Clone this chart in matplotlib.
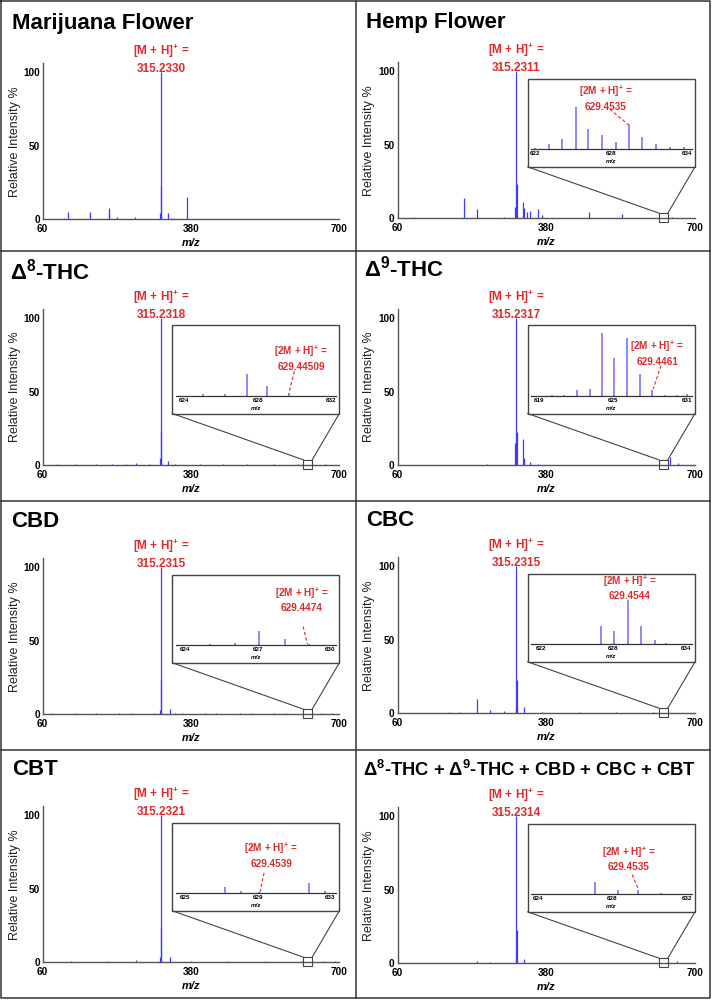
import matplotlib
matplotlib.use("Agg")
import matplotlib.pyplot as plt
from matplotlib.patches import Rectangle
from matplotlib.lines import Line2D

plt.rcParams['font.family'] = ['Liberation Sans', 'DejaVu Sans']
plt.rcParams['mathtext.fontset'] = 'custom'
plt.rcParams['mathtext.rm'] = 'Liberation Sans'
plt.rcParams['mathtext.bf'] = 'Liberation Sans:bold'
plt.rcParams['mathtext.it'] = 'Liberation Sans:italic'

# ---- data ----
titles = ['Marijuana Flower', 'Hemp Flower', r'$\mathbf{\Delta^{8}}$-THC', r'$\mathbf{\Delta^{9}}$-THC',
          'CBD', 'CBC', 'CBT',
          r'$\mathbf{\Delta^{8}}$-THC + $\mathbf{\Delta^{9}}$-THC + CBD + CBC + CBT']
mh_values = ['315.2330', '315.2311', '315.2318', '315.2317', '315.2315', '315.2315', '315.2321', '315.2314']
dimer_values = [None, '629.4535', '629.44509', '629.4461', '629.4474', '629.4544', '629.4539', '629.4535']

marijuana_mz = [72, 83, 105, 115, 130, 148, 162, 202, 204, 221, 259, 313, 315.23, 316.24, 331, 340, 371, 389]
marijuana_int = [0.5, 0.5, 1.2, 5.2, 0.5, 0.5, 5.2, 4, 8, 1.3, 1.3, 4.5, 100, 22.6, 4.5, 1, 15.2, 0.5]

hemp_mz = [95, 204, 231, 290, 313, 315.23, 316.24, 330, 333, 338, 344, 362, 370, 472, 542, 650]
hemp_int = [0.8, 13.5, 6, 0.8, 8, 100, 23.6, 10.8, 6.7, 4, 5, 6, 2, 4.3, 2.7, 1]

d8_mz = [90, 130, 175, 210, 240, 261, 290, 313, 315.23, 316.24, 331, 345, 400, 450, 500, 560, 610, 670]
d8_int = [0.4, 0.5, 0.4, 0.5, 0.4, 1.2, 0.5, 5, 100, 23, 3, 0.8, 0.4, 0.5, 0.4, 0.4, 0.5, 0.4]

d9_mz = [252, 313.5, 315.23, 316.24, 330, 332, 345, 362, 647, 663]
d9_int = [0.5, 14.8, 100, 22.7, 17.5, 4.5, 2.3, 0.6, 5.7, 1.4]

cbd_mz = [80, 105, 130, 150, 175, 200, 225, 250, 275, 300, 314, 315.23, 316.24, 335, 345,
          360, 385, 410, 435, 460, 485, 510, 535, 560, 585, 610, 660, 685]
cbd_int = [0.6, 0.5, 0.7, 0.5, 0.6, 0.5, 0.7, 0.6, 0.5, 0.7, 3, 100, 23.5, 3.4, 1,
           0.6, 0.5, 0.7, 0.6, 0.5, 0.7, 0.6, 0.5, 0.7, 0.6, 0.5, 0.7, 0.6]

cbc_mz = [90, 130, 170, 195, 231, 260, 289, 314, 315.23, 316.24, 332, 370, 410, 450, 490, 530, 570, 610, 665]
cbc_int = [0.5, 0.5, 0.6, 1, 9.8, 2.3, 1.8, 3.4, 100, 22.7, 4.5, 0.6, 0.5, 0.6, 0.5, 0.6, 0.5, 0.6, 0.5]

cbt_mz = [85, 120, 160, 200, 235, 261, 314, 315.23, 316.24, 335, 380, 420, 460, 500, 540, 580, 620, 665, 690]
cbt_int = [0.5, 0.6, 0.5, 0.6, 0.5, 1.6, 3.4, 100, 23, 3.4, 0.6, 0.5, 0.6, 0.5, 0.6, 0.5, 0.6, 0.6, 0.8]

mix_mz = [232, 260, 314, 315.23, 316.24, 332, 662]
mix_int = [1.6, 1.1, 3.9, 100, 22.9, 2.7, 1.8]

hemp_inset_mz = [622.0, 623.06, 624.1, 625.2, 626.2, 627.3, 628.4, 629.45, 630.5, 631.6, 632.7, 633.8]
hemp_inset_int = [2.3, 8, 14, 60, 29, 20, 11, 34, 17, 8, 4, 3]
d8_inset_mz = [625.0, 626.2, 627.4, 628.5, 629.7]
d8_inset_int = [2.4, 3.3, 31, 14, 3.8]
d9_inset_mz = [620.0, 621.0, 622.05, 623.1, 624.1, 625.1, 626.1, 627.2, 628.2, 629.2, 630.2, 631.0]
d9_inset_int = [1.9, 1.9, 8, 10.4, 89, 54, 82.5, 31.6, 8, 2, 2, 3]
cbd_inset_mz = [625.0, 626.05, 627.05, 628.1, 629.1]
cbd_inset_int = [2.4, 3.9, 20.8, 8.7, 2.4]
cbc_inset_mz = [623.5, 625.5, 627.0, 628.1, 629.2, 630.3, 631.5, 632.4]
cbc_inset_int = [0.8, 0.8, 26, 19.3, 62.8, 26, 5.8, 2.4]
cbt_inset_mz = [627.2, 628.1, 629.05, 630.0, 631.8, 632.7]
cbt_inset_int = [8.3, 3.4, 2, 1, 14.2, 3.4]
mix_inset_mz = [626.0, 627.1, 628.3, 629.4, 630.6]
mix_inset_int = [1, 17, 6.4, 5.5, 1.8]

inset_ticks = [None, [622, 628, 634], [624, 628, 632], [619, 625, 631], [624, 627, 630],
               [622, 628, 634], [625, 629, 633], [624, 628, 632]]
inset_xlims = [None, (621.66, 634.4), (623.53, 632.27), (618.3, 631.4), (623.6, 630.23),
               (621.2, 634.5), (624.5, 633.3), (623.64, 632.27)]
# label position (x, y) and dashed pointer (x0, y0, x1, y1) in inset data coords
dimer_label_xy = [None, (627.6, 73), (630.37, 54), (628.6, 61), (628.8, 65), (629.37, 80.5), (629.75, 54.5), (628.9, 50.5)]
dimer_pointer = [None, (627.9, 57, 629.45, 34), (630.0, 35, 629.7, 4), (628.9, 43, 628.26, 10),
                 (628.87, 26.6, 629.05, 1.5), None, (629.35, 29, 629.13, 2), (629.07, 28, 629.43, 6.4)]

spectra = [(marijuana_mz, marijuana_int), (hemp_mz, hemp_int), (d8_mz, d8_int), (d9_mz, d9_int),
           (cbd_mz, cbd_int), (cbc_mz, cbc_int), (cbt_mz, cbt_int), (mix_mz, mix_int)]
insets = [None, (hemp_inset_mz, hemp_inset_int), (d8_inset_mz, d8_inset_int), (d9_inset_mz, d9_inset_int),
          (cbd_inset_mz, cbd_inset_int), (cbc_inset_mz, cbc_inset_int), (cbt_inset_mz, cbt_inset_int),
          (mix_inset_mz, mix_inset_int)]

# ---- layout (pixels) ----
W, H = 712, 1000
SCALE = 1.47          # px per % intensity
axis_left = [42.7, 397.5]
axis_right = [339.3, 695]
baselines = [219.3, 218.3, 465, 465, 714.3, 713.3, 962.3, 963.3]
title_pos = [(12, 29.5), (366, 28.3), (10, 279.3), (364, 276.7), (11, 526.7), (366, 526), (12, 775), (529, 776)]
title_size = [16, 16, 16, 16, 16, 16, 16, 13.2]

BLUE = '#3b3bff'
INSET_BLUE = '#6a6aff'
RED = '#e02b2b'
AXC = '#555555'


def fx(x):
    return x / W


def fy(y):
    return 1 - y / H


fig = plt.figure(figsize=(7.12, 10), dpi=100)

for i in range(8):
    col = i % 2
    left, right = axis_left[col], axis_right[col]
    base = baselines[i]
    hgt = 106 * SCALE
    ax = fig.add_axes([fx(left), fy(base), (right - left) / W, hgt / H])
    mz, inten = spectra[i]
    ax.vlines(mz, 0, inten, color=BLUE, lw=0.9)
    ax.set_xlim(60, 700)
    ax.set_ylim(0, 106)
    ax.set_xticks([60, 380, 700])
    ax.set_yticks([0, 50, 100])
    ax.tick_params(length=0, labelsize=7.2)
    ax.tick_params(axis='x', pad=3.5)
    ax.tick_params(axis='y', pad=2)
    for lab in ax.get_xticklabels() + ax.get_yticklabels():
        lab.set_fontweight('bold')
    for s in ['top', 'right']:
        ax.spines[s].set_visible(False)
    for s in ['left', 'bottom']:
        ax.spines[s].set_color(AXC)
        ax.spines[s].set_linewidth(1.0)
    ax.patch.set_alpha(0)
    ax.set_ylabel('Relative Intensity %', fontsize=9, color='#222222')
    ax.yaxis.set_label_coords(-0.074, 0.5)
    ax.annotate('m/z', xy=(0.5, 0), xycoords='axes fraction', xytext=(0, -24),
                textcoords='offset pixels', ha='center', va='center',
                fontsize=8, style='italic', fontweight='bold')
    ax.text(315.5, 109, '[M + H]$^{\\mathbf{+}}$ =\n' + mh_values[i], ha='center', va='center',
            color=RED, fontsize=8.5, fontweight='bold', linespacing=1.3, clip_on=False)

    tx, ty = title_pos[i]
    fig.text(fx(tx), fy(ty), titles[i], fontsize=title_size[i], fontweight='bold',
             ha='center' if i == 7 else 'left', va='baseline')

    if insets[i] is None:
        continue

    # zoom box, connectors and inset frame
    ax.add_patch(Rectangle((340, 35), 360, 60, facecolor='white', edgecolor='#444444',
                           lw=1.0, clip_on=False, zorder=3))
    ax.add_patch(Rectangle((622.5, -2.5), 19, 6, facecolor='none', edgecolor='#444444',
                           lw=0.8, clip_on=False, zorder=3))
    ax.plot([340, 622.5], [35, 3.5], color='#444444', lw=0.8, clip_on=False, zorder=3)
    ax.plot([700, 641.5], [35, 3.5], color='#444444', lw=0.8, clip_on=False, zorder=3)

    w = right - left
    bl = left + (340 - 60) / 640 * w
    br = right
    bt = base - 95 * SCALE
    bb = base - 35 * SCALE
    il, ir = bl + 3.3, br - 3.3
    ib, it = bb - 17.5, bt
    ins = fig.add_axes([fx(il), fy(ib), (ir - il) / W, (ib - it) / H])
    ins.patch.set_alpha(0)
    imz, iint = insets[i]
    ins.vlines(imz, 0, iint, color=INSET_BLUE, lw=1.1)
    ins.set_xlim(*inset_xlims[i])
    ins.set_ylim(0, 100)
    ins.set_xticks(inset_ticks[i])
    ins.set_yticks([])
    ins.tick_params(length=0, labelsize=4.5, pad=1.5)
    for lab in ins.get_xticklabels():
        lab.set_fontweight('bold')
    for s in ['top', 'right', 'left']:
        ins.spines[s].set_visible(False)
    ins.spines['bottom'].set_color('#333333')
    ins.spines['bottom'].set_linewidth(0.9)
    ins.annotate('m/z', xy=(0.5, 0), xycoords='axes fraction', xytext=(0, -12),
                 textcoords='offset pixels', ha='center', va='center',
                 fontsize=4.5, style='italic', fontweight='bold')
    lx, ly = dimer_label_xy[i]
    ins.text(lx, ly, '[2M + H]$^{\\mathbf{+}}$ =\n' + dimer_values[i], ha='center', va='center',
             color=RED, fontsize=7.2, fontweight='bold', linespacing=1.3)
    if dimer_pointer[i] is not None:
        x0, y0, x1, y1 = dimer_pointer[i]
        ins.plot([x0, x1], [y0, y1], color=RED, lw=0.8, ls=(0, (3, 2)))

# panel frame
frame = dict(transform=fig.transFigure, color='#333333', lw=1.1)
fig.add_artist(Line2D([fx(1), fx(710), fx(710), fx(1), fx(1)],
                      [fy(1), fy(1), fy(998), fy(998), fy(1)], **frame))
fig.add_artist(Line2D([fx(356), fx(356)], [fy(1), fy(998)], **frame))
for yy in [251, 501, 750]:
    fig.add_artist(Line2D([fx(1), fx(710)], [fy(yy), fy(yy)], **frame))

fig.savefig('out.png', dpi=100)
